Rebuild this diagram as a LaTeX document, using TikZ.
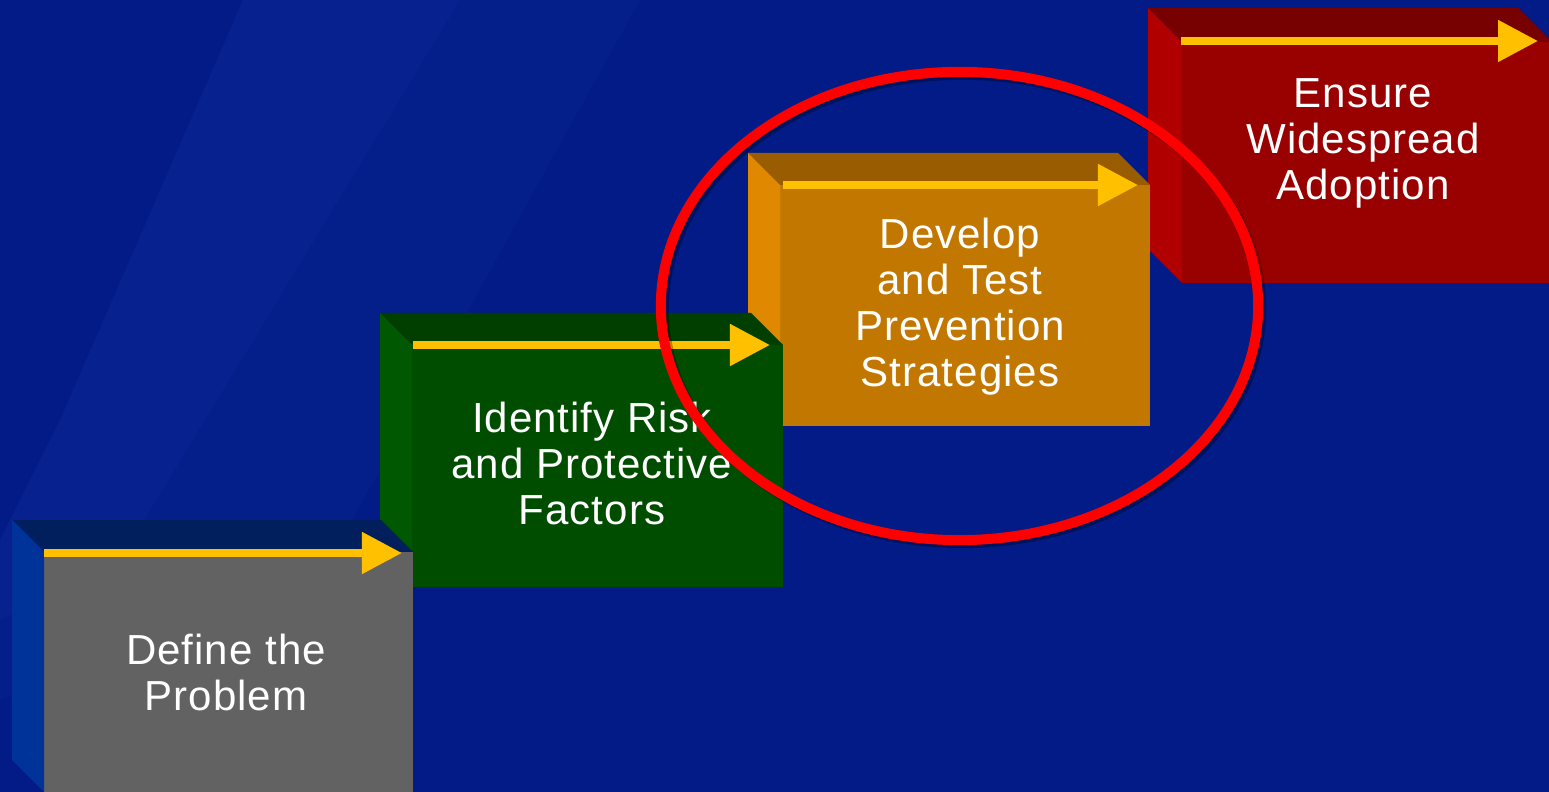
\documentclass[tikz,border=0pt]{standalone}
\usepackage{fontspec}
\setmainfont{Liberation Sans}[LetterSpace=2.4]
\usetikzlibrary{arrows.meta,shapes.geometric}
\definecolor{bgblue}{HTML}{021B86}
\definecolor{bglight}{HTML}{07228E}
\definecolor{bgmid}{HTML}{041E8A}
\definecolor{arrowyellow}{HTML}{FFC000}
\definecolor{grayfront}{HTML}{626262}
\definecolor{graytop}{HTML}{001F5C}
\definecolor{grayleft}{HTML}{003399}
\definecolor{greenfront}{HTML}{004D00}
\definecolor{greentop}{HTML}{003F00}
\definecolor{greenleft}{HTML}{005800}
\definecolor{orangefront}{HTML}{C27800}
\definecolor{orangetop}{HTML}{9A5C00}
\definecolor{orangeleft}{HTML}{E08800}
\definecolor{redfront}{HTML}{990000}
\definecolor{redtop}{HTML}{770000}
\definecolor{redleft}{HTML}{B00000}
\definecolor{ringred}{HTML}{FF0000}
% L T R B depth front top left
\newcommand\drawstepbox[8]{%
  \fill[#6] (#1+#5,#2+#5) rectangle (#3,#4);
  \fill[#7] (#1,#2) -- (#3-#5,#2) -- (#3,#2+#5) -- (#1+#5,#2+#5) -- cycle;
  \fill[#8] (#1,#2) -- (#1+#5,#2+#5) -- (#1+#5,#4) -- (#1,#4-#5) -- cycle;
}
\tikzset{
  steplabel/.style={text=white, align=center, inner sep=0pt, anchor=north,
    font=\fontsize{11.95}{13.1}\selectfont},
  steparrow/.style={draw=arrowyellow, line width=0.08cm,
    -{Triangle[length=0.4cm,width=0.4cm,fill=arrowyellow]}},
  focusring/.style={ellipse, draw=ringred, line width=0.1cm, inner sep=0pt,
    minimum width=5.97cm, minimum height=4.68cm},
}
\begin{document}
\begin{tikzpicture}[x=0.01cm,y=-0.01cm]
\useasboundingbox (0,0) rectangle (1549,792);
% background
\fill[bgblue] (0,0) rectangle (1549,792);
\fill[bgmid] (243,0) -- (640,0) -- (330,560) -- (0,700) -- (0,560) -- cycle;
\fill[bglight] (243,0) -- (460,0) -- (120,560) -- (0,620) -- (0,540) -- (60,420) -- cycle;
% boxes, drawn right to left
\drawstepbox{1148}{8}{1552}{283}{34}{redfront}{redtop}{redleft}
\drawstepbox{748}{153}{1150}{426}{32}{orangefront}{orangetop}{orangeleft}
\drawstepbox{380}{313}{783}{587}{32}{greenfront}{greentop}{greenleft}
\drawstepbox{12}{520}{413}{792}{32}{grayfront}{graytop}{grayleft}
% arrows
\coordinate (a4s) at (1181,41);  \coordinate (a4e) at (1538,41);
\coordinate (a3s) at (783,185);  \coordinate (a3e) at (1138,185);
\coordinate (a2s) at (413,345);  \coordinate (a2e) at (770,345);
\coordinate (a1s) at (44,553);   \coordinate (a1e) at (402,553);
\draw[steparrow] (a4s) -- (a4e);
\draw[steparrow] (a3s) -- (a3e);
\draw[steparrow] (a2s) -- (a2e);
\draw[steparrow] (a1s) -- (a1e);
% labels
\node[steplabel] (t1) at (226,633) {Define the\\Problem};
\node[steplabel] (t2) at (592,401) {Identify Risk\\and Protective\\Factors};
\node[steplabel] (t3) at (960,217) {Develop\\and Test\\Prevention\\Strategies};
\node[steplabel] (t4) at (1363,78) {Ensure\\Widespread\\Adoption};
% focus ring with soft shadow
\node[focusring, draw=black, draw opacity=0.3] (ringshadow) at (962.5,309) {};
\node[focusring] (ring) at (959.5,306) {};
\end{tikzpicture}
\end{document}
